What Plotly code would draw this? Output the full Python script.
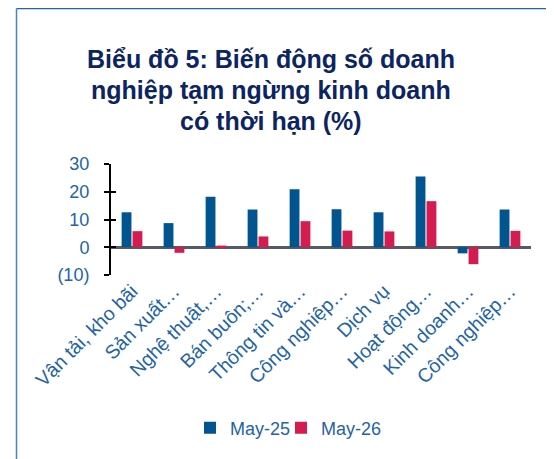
import plotly.graph_objects as go

categories = ["Vận tải, kho bãi", "Sản xuất…", "Nghệ thuật,…", "Bán buôn;…", "Thông tin và…",
              "Công nghiệp…", "Dịch vụ", "Hoạt động…", "Kinh doanh…", "Công nghiệp…"]
may25 = [12.6, 8.7, 18.2, 13.6, 20.9, 13.7, 12.6, 25.5, -2.2, 13.6]
may26 = [5.8, -2.0, 0.6, 3.9, 9.4, 6.0, 5.7, 16.6, -6.1, 5.9]
series_names = ["May-25", "May-26"]
ytick_vals = [-10, 0, 10, 20, 30]
ytick_text = ["(10)", "0", "10", "20", "30"]
title_lines = ["Biểu đồ 5: Biến động số doanh", "nghiệp tạm ngừng kinh doanh", "có thời hạn (%)"]

W, H = 554, 459
OFF = 8  # page body margin
L, R, T, B = 103, 31, 156, 192
pw, ph = W - L - R, H - T - B

BLUE = "#00548f"
RED = "#d41c50"
TXT = "#1f64a3"
FONT = "Liberation Sans, Arial, sans-serif"

x = list(range(len(categories)))
fig = go.Figure()
fig.add_trace(go.Bar(x=x, y=may25, name=series_names[0], marker_color=BLUE, marker_line_width=0,
                     legend="legend"))
fig.add_trace(go.Bar(x=x, y=may26, name=series_names[1], marker_color=RED, marker_line_width=0,
                     legend="legend2"))

def px_x(p):
    return (p - OFF - L) / pw

def px_y(p):
    return (H - B - (p - OFF)) / ph

annotations = []
for i, line in enumerate(title_lines):
    annotations.append(dict(text=f"<b>{line}</b>", xref="paper", yref="paper",
                            x=px_x(271), y=px_y(59 + i * 31), xanchor="center", yanchor="middle",
                            showarrow=False, font=dict(family=FONT, size=25, color="#0c2461")))

shapes = [
    dict(type="line", xref="paper", yref="paper", x0=px_x(16.5), x1=px_x(580), y0=px_y(8.5), y1=px_y(8.5),
         line=dict(color="#1f64a3", width=1.3)),
    dict(type="line", xref="paper", yref="paper", x0=px_x(16.5), x1=px_x(16.5), y0=px_y(8.5), y1=px_y(480),
         line=dict(color="#3f86c4", width=1.5)),
]

legend_style = dict(orientation="h", yanchor="middle", xanchor="left", itemwidth=30,
                    font=dict(family=FONT, size=18, color=TXT), borderwidth=0,
                    bgcolor="rgba(0,0,0,0)")

fig.update_layout(
    width=W, height=H,
    margin=dict(l=L, r=R, t=T, b=B, autoexpand=False),
    paper_bgcolor="white", plot_bgcolor="white",
    barmode="group", bargap=0.48, bargroupgap=0.1,
    showlegend=True,
    legend=dict(x=px_x(190), y=px_y(428), **legend_style),
    legend2=dict(x=px_x(281), y=px_y(428), **legend_style),
    annotations=annotations, shapes=shapes,
    xaxis=dict(tickmode="array", tickvals=x, ticktext=categories, tickangle=-45,
               tickfont=dict(family=FONT, size=19.5, color=TXT), showgrid=False, showline=False,
               ticks="", ticklabelstandoff=0, range=[-0.5, len(categories) - 0.5], zeroline=False,
               fixedrange=True),
    yaxis=dict(range=[-10, 30], tickmode="array", tickvals=ytick_vals, ticktext=ytick_text,
               tickfont=dict(family=FONT, size=18, color=TXT), showgrid=False,
               showline=True, linecolor="black", linewidth=2,
               ticks="outside", ticklen=5, tickwidth=2, tickcolor="black", ticklabelstandoff=11,
               zeroline=True, zerolinecolor="#555a66", zerolinewidth=2.5),
    yaxis2=dict(range=[-10, 30], overlaying="y", side="left", tickmode="array", tickvals=ytick_vals,
                showticklabels=False, showgrid=False, showline=False, ticks="inside", ticklen=5,
                tickwidth=2, tickcolor="black", zeroline=False),
)
fig.add_trace(go.Scatter(x=[None], y=[None], yaxis="y2", showlegend=False, hoverinfo="skip"))
fig.write_html("out.html")
